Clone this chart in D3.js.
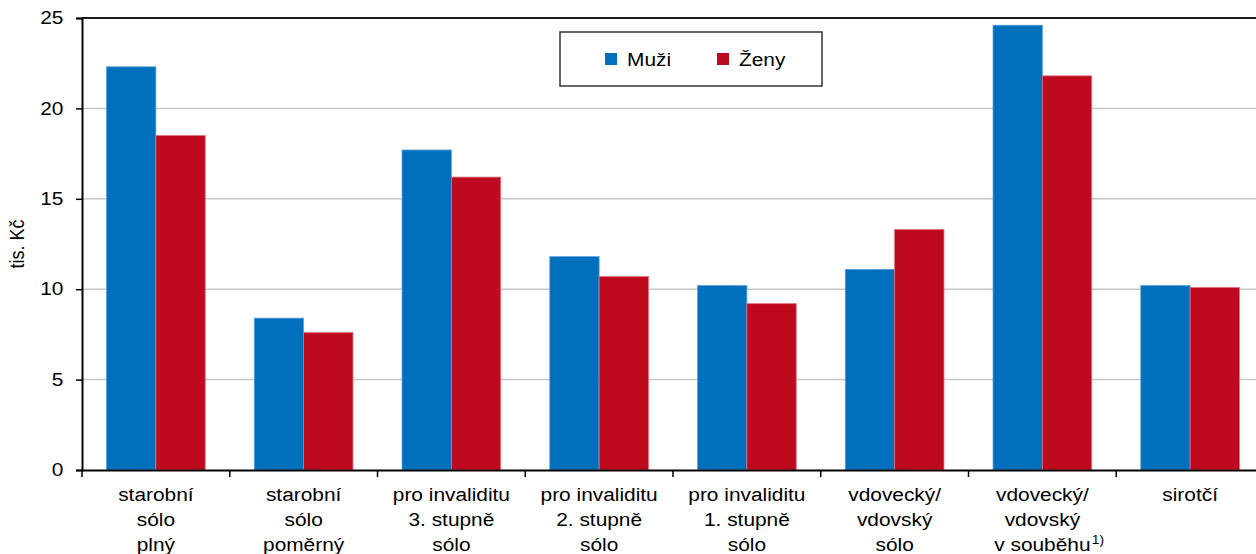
<!DOCTYPE html>
<html>
<head>
<meta charset="utf-8">
<script src="https://cdn.jsdelivr.net/npm/d3@7"></script>
<style>
  html, body { margin: 0; padding: 0; background: #fff; }
  svg { display: block; font-family: "Liberation Sans", Arial, sans-serif; }
</style>
</head>
<body>
<svg id="chart" width="1256" height="554"></svg>
<script>
const categories = [
  "starobní\nsólo\nplný",
  "starobní\nsólo\npoměrný",
  "pro invaliditu\n3. stupně\nsólo",
  "pro invaliditu\n2. stupně\nsólo",
  "pro invaliditu\n1. stupně\nsólo",
  "vdovecký/\nvdovský\nsólo",
  "vdovecký/\nvdovský\nv souběhu¹",
  "sirotčí"
];
const seriesNames = ["Muži", "Ženy"];
const muzi = [22.3, 8.4, 17.7, 11.8, 10.2, 11.1, 24.6, 10.2];
const zeny = [18.5, 7.6, 16.2, 10.7, 9.2, 13.3, 21.8, 10.1];
const yTicks = [0, 5, 10, 15, 20, 25];
const yTitle = "tis. Kč";
const colors = ["#0070bd", "#bd0a1e"];
const strokes = ["#5aa2dc", "#e0707c"];

const svg = d3.select("#chart");
const pLeft = 82, pRight = 1264, pTop = 18, pBottom = 470;
const fs = 18;
const sx = 1.16; // horizontal stretch of glyphs as in the reference

const x0 = d3.scaleBand().domain(categories).range([pLeft, pRight]).padding(0);
const bw = x0.bandwidth();
const x1 = d3.scaleBand().domain(seriesNames).range([bw * 0.166, bw * 0.834]).padding(0);
const y = d3.scaleLinear().domain([0, 25]).range([pBottom, pTop]);

// gridlines
svg.append("g").selectAll("line").data(yTicks.filter(d => d > 0 && d < 25)).join("line")
  .attr("x1", pLeft).attr("x2", 1256)
  .attr("y1", d => y(d)).attr("y2", d => y(d))
  .attr("stroke", "#c8c8c8").attr("stroke-width", 1.5);

// top border
svg.append("line").attr("x1", pLeft).attr("x2", 1256).attr("y1", y(25)).attr("y2", y(25))
  .attr("stroke", "#1a1a1a").attr("stroke-width", 2);

// bars
const data = seriesNames.map((s, i) => ({ name: s, values: i === 0 ? muzi : zeny, idx: i }));
const groups = svg.append("g").selectAll("g").data(data).join("g");
groups.selectAll("rect").data(d => d.values.map((v, j) => ({ v, cat: categories[j], s: d.name, idx: d.idx }))).join("rect")
  .attr("x", d => x0(d.cat) + x1(d.s))
  .attr("y", d => y(d.v))
  .attr("width", x1.bandwidth())
  .attr("height", d => y(0) - y(d.v))
  .attr("fill", d => colors[d.idx])
  .attr("stroke", d => strokes[d.idx])
  .attr("stroke-width", 0.8);

// y axis
const yAxis = d3.axisLeft(y).tickValues(yTicks).tickSize(6).tickPadding(10).tickFormat(d3.format("d"));
const gy = svg.append("g").attr("transform", `translate(${pLeft},0)`).call(yAxis);
gy.select(".domain").attr("stroke", "#000").attr("stroke-width", 2);
gy.selectAll(".tick line").attr("stroke", "#000").attr("stroke-width", 1.5);
gy.selectAll(".tick text").attr("font-size", fs).attr("fill", "#000")
  .attr("font-family", "Liberation Sans, Arial, sans-serif")
  .attr("transform", `scale(${sx},1)`);

// x axis
const xAxis = d3.axisBottom(x0).tickSize(0).tickFormat("");
const gx = svg.append("g").attr("transform", `translate(0,${pBottom})`).call(xAxis);
gx.select(".domain").attr("stroke", "#000").attr("stroke-width", 2);
// boundary ticks
svg.append("g").selectAll("line").data(categories).join("line")
  .attr("x1", d => x0(d)).attr("x2", d => x0(d))
  .attr("y1", pBottom).attr("y2", pBottom + 7)
  .attr("stroke", "#000").attr("stroke-width", 1.5);

// category labels
const labG = svg.append("g");
categories.forEach(d => {
  const cx = x0(d) + bw / 2;
  const g = labG.append("g").attr("transform", `translate(${cx},501) scale(${sx},1)`);
  d.split("\n").forEach((line, i) => {
    const sup = line.endsWith("¹");
    const txt = sup ? line.slice(0, -1) : line;
    const t = g.append("text").attr("x", 0).attr("y", i * 25)
      .attr("text-anchor", "middle").attr("font-size", fs).attr("fill", "#000").text(txt);
    if (sup) {
      const w = t.node().getComputedTextLength();
      g.append("text").attr("x", w / 2 + 1).attr("y", i * 25 - 7)
        .attr("font-size", 12).attr("fill", "#000").text("1)");
    }
  });
});

// y title
svg.append("text")
  .attr("transform", `translate(24,${(pTop + pBottom) / 2}) rotate(-90) scale(1,${sx})`)
  .attr("text-anchor", "middle")
  .attr("font-size", fs)
  .attr("fill", "#000")
  .text(yTitle);

// legend
const lg = svg.append("g");
lg.append("rect").attr("x", 560).attr("y", 32).attr("width", 262).attr("height", 54)
  .attr("fill", "#fff").attr("stroke", "#333").attr("stroke-width", 1.5);
const legX = [605, 717];
seriesNames.forEach((s, i) => {
  lg.append("rect").attr("x", legX[i]).attr("y", 53).attr("width", 12).attr("height", 12).attr("fill", colors[i]);
  lg.append("text").attr("transform", `translate(${legX[i] + 22},66) scale(${sx},1)`)
    .attr("font-size", fs).attr("fill", "#000").text(s);
});
</script>
</body>
</html>
